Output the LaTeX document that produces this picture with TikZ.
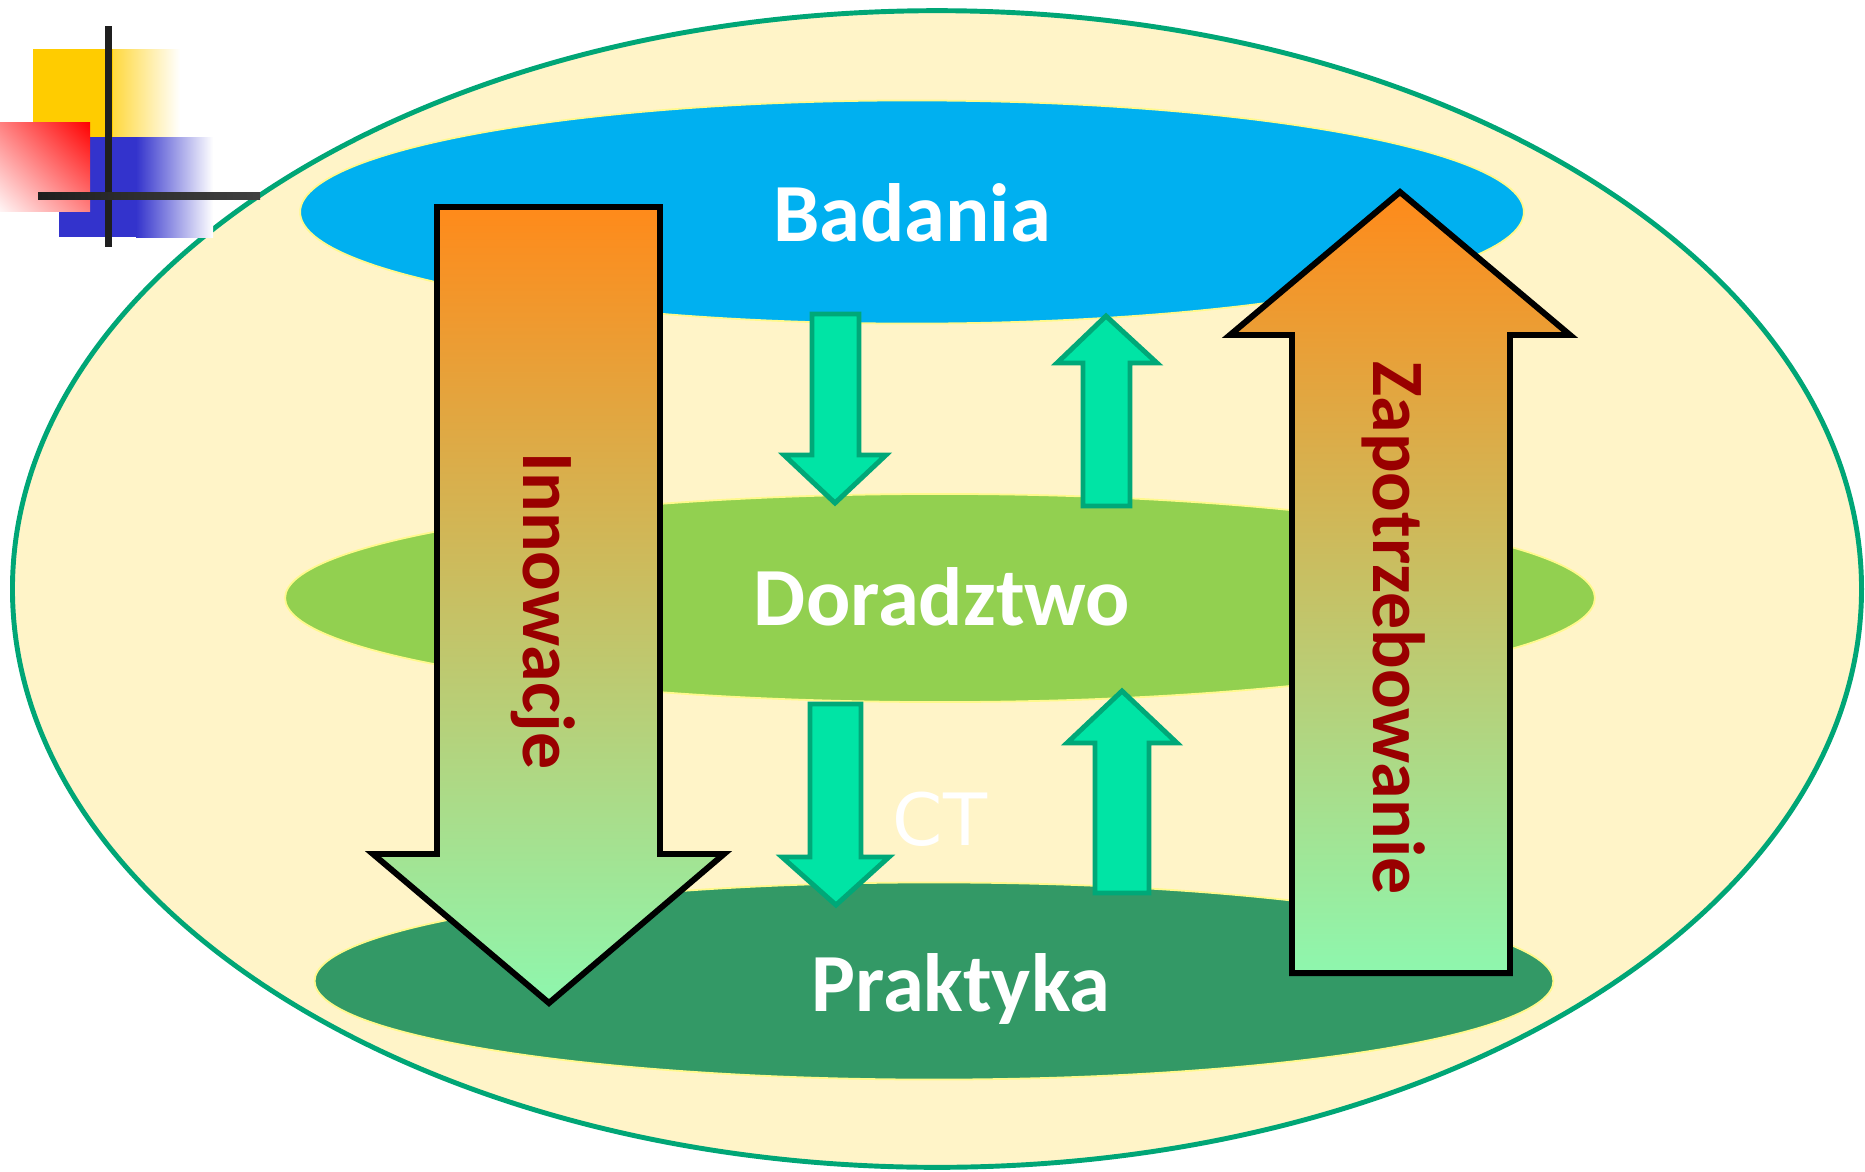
\documentclass[tikz,border=0pt]{standalone}
\usepackage{fontspec}
\setmainfont{Carlito}
\newfontfamily\ctfont{DejaVu Sans}
\usetikzlibrary{shapes.geometric,shadings}

\definecolor{cream}{RGB}{255,244,200}
\definecolor{rim}{RGB}{0,166,118}
\definecolor{skyblue}{RGB}{0,176,240}
\definecolor{leafgreen}{RGB}{146,208,80}
\definecolor{deepgreen}{RGB}{51,153,102}
\definecolor{mint}{RGB}{0,228,165}
\definecolor{mintline}{RGB}{0,168,120}
\definecolor{hotorange}{RGB}{255,138,26}
\definecolor{sand}{RGB}{214,192,120}
\definecolor{palegreen}{RGB}{142,247,174}
\definecolor{darkred}{RGB}{153,0,0}
\definecolor{gold}{RGB}{255,204,0}
\definecolor{ink}{RGB}{31,31,31}
\definecolor{royal}{RGB}{51,51,204}

\begin{document}
\begin{tikzpicture}[x=0.01cm,y=-0.01cm,
  layer/.style = {ellipse, inner sep=0pt, draw=yellow!45, line width=0.5pt},
  lbl/.style = {text=white, font=\bfseries\fontsize{23.5}{28}\selectfont, anchor=base, inner sep=0pt},
  side/.style = {text=darkred, font=\bfseries\fontsize{21}{25}\selectfont, anchor=base, rotate=-90, inner sep=0pt},
  big/.style = {draw=black, line width=1.7pt, top color=hotorange, middle color=sand, bottom color=palegreen},
  small/.style = {draw=mintline, fill=mint, line width=1.4pt}]
\useasboundingbox (0,0) rectangle (1865,1172);

% outer field
\node[ellipse, draw=rim, fill=cream, line width=1.4pt, inner sep=0pt,
  minimum width=18.48cm, minimum height=11.56cm] (field) at (937,589) {};

% three levels
\node[layer, fill=skyblue, minimum width=12.23cm, minimum height=2.23cm] (bad) at (912,212) {};
\node[layer, fill=leafgreen, minimum width=13.09cm, minimum height=2.08cm] (dor) at (940,598) {};
\node[layer, fill=deepgreen, minimum width=12.38cm, minimum height=1.97cm] (prak) at (934,981) {};

% big arrows
\draw[big] (437,207) -- (660,207) -- (660,854) -- (724,854) -- (549,1003)
  -- (373,854) -- (437,854) -- cycle;
\draw[big] (1400,192) -- (1570,335) -- (1510,335) -- (1510,973) -- (1292,973)
  -- (1292,335) -- (1230,335) -- cycle;

% small arrows
\draw[small] (812,314) -- (859,314) -- (859,455) -- (886,455) -- (835,503)
  -- (784,455) -- (812,455) -- cycle;
\draw[small] (1106,316) -- (1157,363) -- (1130,363) -- (1130,506) -- (1083,506)
  -- (1083,363) -- (1057,363) -- cycle;
\draw[small] (810,704) -- (861,704) -- (861,857) -- (889,857) -- (836,905)
  -- (782,857) -- (810,857) -- cycle;
\draw[small] (1122,691) -- (1177,743) -- (1149,743) -- (1149,893) -- (1095,893)
  -- (1095,743) -- (1067,743) -- cycle;

% labels
\node[lbl] (badania) at (912,241) {Badania};
\node[lbl] (doradztwo) at (942,625) {Doradztwo};
\node[lbl] (praktyka) at (961,1011) {Praktyka};
\node[side] (innowacje) at (523,611) {Innowacje};
\node[side] (zapotrz) at (1373,628) {Zapotrzebowanie};
\node[text=white, font=\ctfont\fontsize{20.5}{24}\selectfont, anchor=base, inner sep=0pt] (ct) at (940,845) {CT};

% corner logo
\fill[gold] (33,49) rectangle (113,137);
\shade[left color=gold!75, right color=white] (113,49) rectangle (180,137);
\fill[royal] (59,137) rectangle (136,237);
\shade[left color=royal, right color=white] (136,137) rectangle (213,237);
\shade[upper right=red, lower left=red!4, upper left=red!50, lower right=red!50] (0,122) rectangle (90,211);
\fill[ink] (105,26) rectangle (112,247);
\shade[left color=ink, right color=ink!85] (38,192) rectangle (260,199);
\end{tikzpicture}
\end{document}
